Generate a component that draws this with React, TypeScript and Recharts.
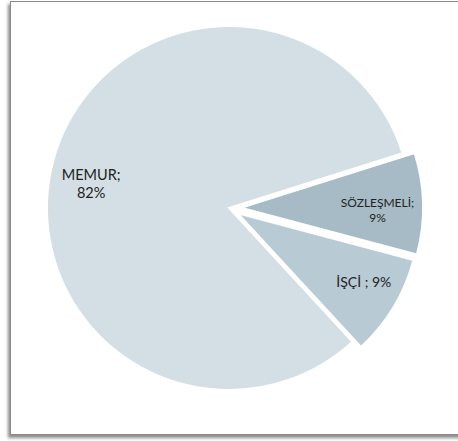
import React from 'react';
import { PieChart, Pie, Cell } from 'recharts';

// slice order goes clockwise from the upper edge of SÖZLEŞMELİ
const categories = ['SÖZLEŞMELİ', 'İŞÇİ', 'MEMUR'];
const shares = [9, 9, 82];
const twoLineLabel = [true, false, true];

const colors = ['#a6bbc5', '#b8cad3', '#d3dfe4'];
const explode = [12, 10, 0];
const labelRadius = [0.75, 0.79, 0.77];
const labelAngleShift = [-2, 2.5, 4.5];
const labelFont = [12, 14, 14.5];

const START = 17.5;
const CX = 229;
const CY = 208;
const R = 182;
const RAD = Math.PI / 180;

const data = categories.map((name, i) => ({ name, value: shares[i] }));
const total = shares.reduce((a, b) => a + b, 0);

const midAngles = shares.map((v, i) => {
    const before = shares.slice(0, i).reduce((a, b) => a + b, 0);
    return START - ((before + v / 2) / total) * 360;
});

const makeLabel = (k: number) => (props: any) => {
    const { cx, cy, midAngle, outerRadius, index } = props;
    if (index !== k) return null;
    const a = (midAngle + labelAngleShift[k]) * RAD;
    const r = outerRadius * labelRadius[k];
    const x = cx + r * Math.cos(a);
    const y = cy - r * Math.sin(a);
    const fs = labelFont[k];
    const lh = fs * 1.25;
    const d = data[k];
    if (twoLineLabel[k]) {
        return (
            <text x={x} y={y} textAnchor="middle" dominantBaseline="central" fill="#222" fontSize={fs} fontFamily="Lato, 'Open Sans', sans-serif">
                <tspan x={x} dy={-lh / 2}>{d.name};</tspan>
                <tspan x={x} dy={lh}>{d.value}%</tspan>
            </text>
        );
    }
    return (
        <text x={x} y={y} textAnchor="middle" dominantBaseline="central" fill="#222" fontSize={fs} fontFamily="Lato, 'Open Sans', sans-serif">
            {d.name} ; {d.value}%
        </text>
    );
};

const order = [2, 0, 1];

const App = () => {
    return (
        <div style={{ position: 'absolute', left: 0, top: 0, width: 458, height: 441, overflow: 'hidden', background: '#fff' }}>
            <div
                style={{
                    position: 'absolute',
                    left: 10,
                    top: 1,
                    width: 470,
                    height: 432,
                    border: '1.5px solid #8a8a8a',
                    boxShadow: '-2px 3px 3px rgba(0,0,0,0.45)',
                    background: '#fff',
                }}
            />
            <div style={{ position: 'absolute', left: 0, top: 0 }}>
                <PieChart width={458} height={441} margin={{ top: 0, right: 0, bottom: 0, left: 0 }}>
                    {order.map((k) => {
                        const m = midAngles[k] * RAD;
                        return (
                            <Pie
                                key={k}
                                data={data}
                                dataKey="value"
                                nameKey="name"
                                cx={CX + explode[k] * Math.cos(m)}
                                cy={CY - explode[k] * Math.sin(m)}
                                outerRadius={R}
                                startAngle={START}
                                endAngle={START - 360}
                                label={makeLabel(k)}
                                labelLine={false}
                                isAnimationActive={false}
                            >
                                {data.map((d, i) => (
                                    <Cell
                                        key={d.name}
                                        fill={i === k ? colors[i] : 'transparent'}
                                        stroke={i === k ? '#fff' : 'none'}
                                        strokeWidth={2}
                                    />
                                ))}
                            </Pie>
                        );
                    })}
                </PieChart>
            </div>
        </div>
    );
};

export default App;
